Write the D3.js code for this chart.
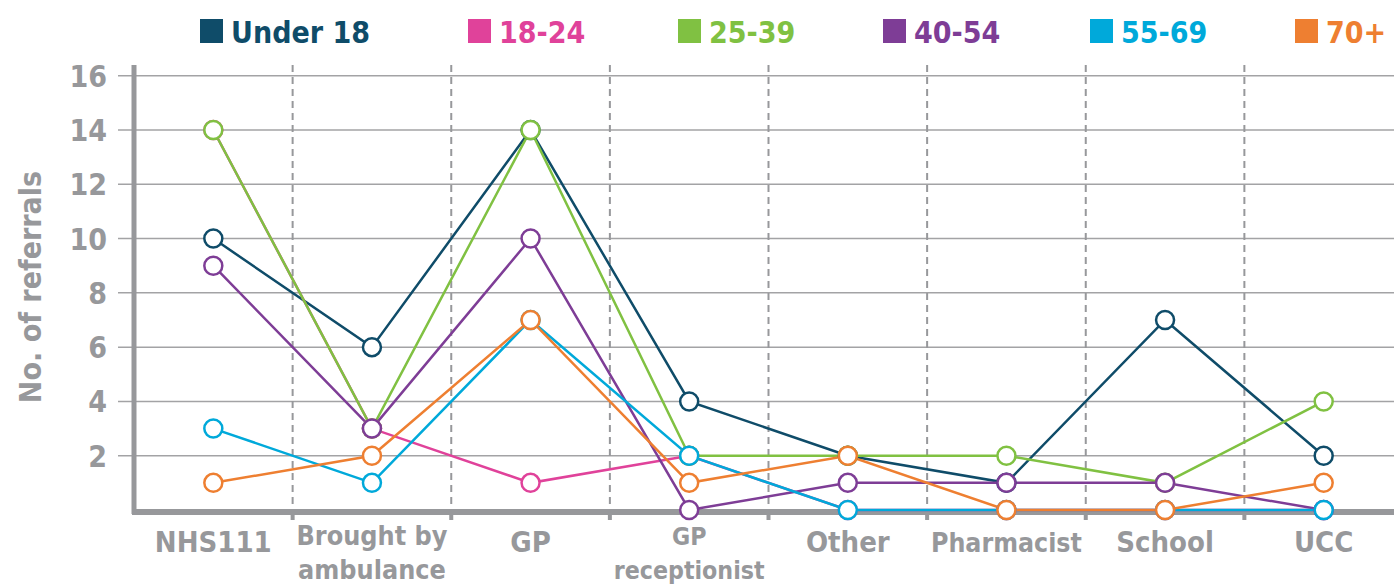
<!DOCTYPE html>
<html lang="en">
<head>
<meta charset="UTF-8">
<title>No. of referrals by source and age group</title>
<script src="https://d3js.org/d3.v7.min.js"></script>
<style>
    body { margin: 0; background: #fff; }
    svg text { font-family: "DejaVu Sans Condensed", "DejaVu Sans", sans-serif; font-weight: bold; }
</style>
</head>
<body>
<svg id="chart" width="1394" height="587"></svg>
<script>
    // data
    const categories = ["NHS111", "Brought by\nambulance", "GP", "GP\nreceptionist", "Other", "Pharmacist", "School", "UCC"];
    const groups = ["Under 18", "18-24", "25-39", "40-54", "55-69", "70+"];
    const under18 = [10, 6, 14, 4, 2, 1, 7, 2];
    const age18to24 = [14, 3, 1, 2, 0, 0, 0, 0];
    const age25to39 = [14, 3, 14, 2, 2, 2, 1, 4];
    const age40to54 = [9, 3, 10, 0, 1, 1, 1, 0];
    const age55to69 = [3, 1, 7, 2, 0, 0, 0, 0];
    const age70plus = [1, 2, 7, 1, 2, 0, 0, 1];
    const yTicks = [2, 4, 6, 8, 10, 12, 14, 16];

    const seriesValues = [under18, age18to24, age25to39, age40to54, age55to69, age70plus];
    const colors = ["#0f4c69", "#e0429a", "#80c142", "#7e3d96", "#00a9da", "#ee7f31"];
    const GREY = "#97989b";

    const svg = d3.select("#chart");
    const plotLeft = 134, plotBottom = 511, plotTop = 65;

    const x = d3.scaleBand().domain(categories).range([plotLeft, 1403]).padding(0);
    const y = d3.scaleLinear().domain([0, 14]).range([510, 130]);

    // horizontal grid lines
    svg.append("g").selectAll("line").data(yTicks).join("line")
        .attr("x1", plotLeft - 16).attr("x2", 1394)
        .attr("y1", d => y(d)).attr("y2", d => y(d))
        .attr("stroke", "#a3a3a5").attr("stroke-width", 1.5);

    // y tick labels
    svg.append("g").selectAll("text").data(yTicks).join("text")
        .attr("x", 107).attr("y", d => y(d) + 11)
        .attr("text-anchor", "end")
        .attr("font-size", 30)
        .attr("fill", GREY)
        .text(d => d);

    // dashed separators between categories
    const bounds = categories.slice(1).map(c => x(c));
    svg.append("g").selectAll("line").data(bounds).join("line")
        .attr("x1", d => d).attr("x2", d => d)
        .attr("y1", plotTop).attr("y2", plotBottom)
        .attr("stroke", GREY).attr("stroke-width", 2)
        .attr("stroke-dasharray", "7,5");
    svg.append("g").selectAll("rect").data(bounds).join("rect")
        .attr("x", d => d - 2).attr("y", plotBottom).attr("width", 4).attr("height", 9)
        .attr("fill", GREY);

    // axis lines
    svg.append("line").attr("x1", plotLeft).attr("x2", plotLeft).attr("y1", plotTop).attr("y2", plotBottom + 3)
        .attr("stroke", GREY).attr("stroke-width", 5);
    svg.append("line").attr("x1", plotLeft - 2).attr("x2", 1394).attr("y1", plotBottom + 1).attr("y2", plotBottom + 1)
        .attr("stroke", GREY).attr("stroke-width", 6);

    // x labels, shrunk to fit the band
    const xl = svg.append("g");
    categories.forEach(c => {
        const lines = c.split("\n");
        const cx = x(c) + x.bandwidth() / 2;
        const t = xl.append("text").attr("text-anchor", "middle").attr("fill", GREY).attr("font-size", 29);
        lines.forEach((s, i) => {
            t.append("tspan").attr("x", cx).attr("y", lines.length > 1 ? 545 + i * 34 : 552).text(s);
        });
        const w = t.node().getBBox().width;
        if (w > 151) t.attr("font-size", 29 * 151 / w);
    });

    // y title
    svg.append("text")
        .attr("transform", "translate(41,287) rotate(-90)")
        .attr("text-anchor", "middle")
        .attr("font-size", 30)
        .attr("fill", GREY)
        .text("No. of referrals");

    // series
    const line = d3.line()
        .x((d, i) => x(categories[i]) + x.bandwidth() / 2)
        .y(d => y(d));

    seriesValues.forEach((vals, k) => {
        svg.append("path").datum(vals)
            .attr("d", line)
            .attr("fill", "none")
            .attr("stroke", colors[k])
            .attr("stroke-width", 2.5);
    });
    seriesValues.forEach((vals, k) => {
        svg.append("g").selectAll("circle").data(vals).join("circle")
            .attr("cx", (d, i) => x(categories[i]) + x.bandwidth() / 2)
            .attr("cy", d => y(d))
            .attr("r", 9)
            .attr("fill", "#fff")
            .attr("stroke", colors[k])
            .attr("stroke-width", 2.5);
    });

    // legend
    const legendX = [200, 468, 678, 883, 1090, 1295];
    const lg = svg.append("g");
    groups.forEach((g, k) => {
        lg.append("rect").attr("x", legendX[k]).attr("y", 19).attr("width", 23).attr("height", 24)
            .attr("fill", colors[k]);
        lg.append("text").attr("x", legendX[k] + 31).attr("y", 43)
            .attr("font-size", 30).attr("fill", colors[k]).text(g);
    });
</script>
</body>
</html>
